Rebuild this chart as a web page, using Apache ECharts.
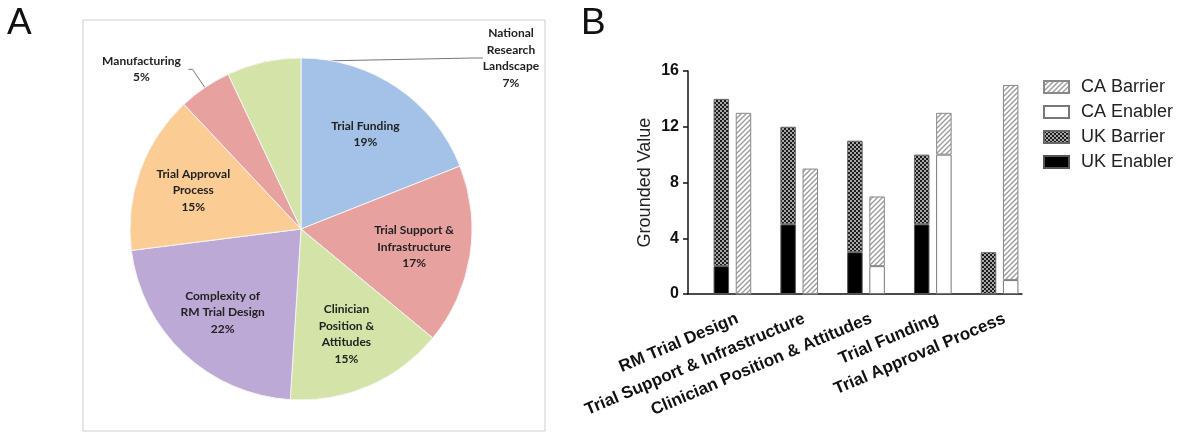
<!DOCTYPE html>
<html>
<head>
<meta charset="utf-8">
<script src="https://cdn.jsdelivr.net/npm/echarts@6/dist/echarts.min.js"></script>
<style>
  html, body { margin: 0; padding: 0; background: #fff; }
  #chart { width: 1182px; height: 434px; }
</style>
</head>
<body>
<div id="chart"></div>
<script>
// panel A - pie
const pieNames = ['Trial Funding', 'Trial Support &\nInfrastructure', 'Clinician\nPosition &\nAttitudes',
  'Complexity of\nRM Trial Design', 'Trial Approval\nProcess', 'Manufacturing', 'National\nResearch\nLandscape'];
const piePercent = [19, 17, 15, 22, 15, 5, 7];
const pieColors = ['#A4C2E7', '#E7A2A0', '#D4E4A9', '#BDA9D5', '#FCCC95', '#E7A2A0', '#D4E4A9'];

// panel B - stacked bars
const categories = ['RM Trial Design', 'Trial Support & Infrastructure', 'Clinician Position & Attitudes',
  'Trial Funding', 'Trial Approval Process'];
const ukEnabler = [2, 5, 3, 5, 0];
const ukBarrier = [12, 7, 8, 5, 3];
const caEnabler = [0, 0, 2, 10, 1];
const caBarrier = [13, 9, 5, 3, 14];
const yMin = 0, yMax = 16, yStep = 4;

const pieCx = 301, pieCy = 229, pieR = 171;
const font = '"Liberation Sans", Arial, sans-serif';

function makePattern(size, draw) {
  const c = document.createElement('canvas');
  c.width = size; c.height = size;
  draw(c.getContext('2d'), size);
  return { image: c, repeat: 'repeat' };
}

// checkered dark fill for UK Barrier
const checker = makePattern(4, (ctx) => {
  ctx.fillStyle = '#a8a8a8';
  ctx.fillRect(0, 0, 4, 4);
  ctx.fillStyle = '#1c1c1c';
  ctx.fillRect(0, 0, 2, 2);
  ctx.fillRect(2, 2, 2, 2);
});

// light diagonal hatch for CA Barrier
const hatch = makePattern(5, (ctx, s) => {
  ctx.fillStyle = '#ffffff';
  ctx.fillRect(0, 0, s, s);
  ctx.strokeStyle = '#9c9c9c';
  ctx.lineWidth = 1.4;
  ctx.beginPath();
  ctx.moveTo(-1, s + 1); ctx.lineTo(s + 1, -1);
  ctx.moveTo(-1, 1); ctx.lineTo(1, -1);
  ctx.moveTo(s - 1, s + 1); ctx.lineTo(s + 1, s - 1);
  ctx.stroke();
});

let chart = echarts.init(document.getElementById('chart'));

const sliceData = pieNames.map((n, i) => ({
  name: n, value: piePercent[i], itemStyle: { color: pieColors[i] }
}));

const labelData = pieNames.map((n, i) => {
  let item = { name: n, value: piePercent[i] };
  if (n === 'Manufacturing') {
    item.label = {
      position: 'outside',
      formatter: '{a|{b}}\n{a|{c}%}',
      rich: { a: { width: 84, align: 'center', fontSize: 12, fontWeight: 'bold', lineHeight: 16, color: '#222', fontFamily: 'Lato' } }
    };
    item.labelLine = { show: true, length: 22, length2: 4 };
  } else if (i === pieNames.length - 1) {
    item.label = { position: 'outside', align: 'center' };
    item.labelLine = { show: true, length: 10, length2: 10 };
  }
  return item;
});

chart.setOption({
  animation: false,
  graphic: [
    { type: 'rect', shape: { x: 83, y: 20, width: 462, height: 411 }, style: { fill: 'none', stroke: '#cfcfcf', lineWidth: 1 } },
    { type: 'text', left: 7, top: 5, style: { text: 'A', font: '37px ' + font, fill: '#111' } },
    { type: 'text', left: 581, top: 5, style: { text: 'B', font: '37px ' + font, fill: '#111' } }
  ],
  legend: {
    data: ['CA Barrier', 'CA Enabler', 'UK Barrier', 'UK Enabler'],
    orient: 'vertical',
    left: 1043,
    top: 78,
    padding: 0,
    icon: 'rect',
    itemWidth: 25,
    itemHeight: 12,
    itemGap: 7,
    textStyle: { fontSize: 18, color: '#222', fontFamily: font, padding: [0, 0, 0, 7] }
  },
  grid: [
    { left: 699, right: 149, top: 71, bottom: 140 },
    { left: 688, right: 160, top: 71, bottom: 140 },
    { left: 704, right: 144, top: 71, bottom: 140 }
  ],
  xAxis: [
    {
      type: 'category',
      gridIndex: 0,
      data: categories,
      axisLine: { show: false },
      axisTick: { show: false },
      axisLabel: { show: false }
    },
    {
      type: 'value', gridIndex: 1, min: 0, max: 1,
      axisLine: { show: true, lineStyle: { color: '#111', width: 1.5 } },
      axisTick: { show: false }, axisLabel: { show: false }, splitLine: { show: false }
    },
    {
      // category labels, nudged right like the original figure
      type: 'category',
      gridIndex: 2,
      data: categories,
      axisLine: { show: false },
      axisTick: { show: false },
      axisLabel: {
        interval: 0, rotate: 23, margin: 24,
        fontSize: 17, fontWeight: 'bold', color: '#111', fontFamily: font
      }
    }
  ],
  yAxis: [
    {
      type: 'value',
      gridIndex: 0,
      min: yMin, max: yMax, interval: yStep,
      offset: 11,
      name: 'Grounded Value',
      nameLocation: 'middle',
      nameGap: 34,
      nameTextStyle: { fontSize: 18, color: '#222', fontFamily: font },
      axisLine: { show: true, lineStyle: { color: '#111', width: 1.5 } },
      axisTick: { show: true, length: 5, lineStyle: { color: '#111', width: 1.5 } },
      axisLabel: { fontSize: 16, fontWeight: 'bold', color: '#111', margin: 9, fontFamily: font },
      splitLine: { show: false }
    },
    { type: 'value', gridIndex: 1, show: false, min: 0, max: 1 },
    { type: 'value', gridIndex: 2, show: false, min: 0, max: 1 }
  ],
  series: [
    {
      type: 'pie',
      center: [pieCx, pieCy],
      radius: pieR,
      startAngle: 90,
      clockwise: true,
      silent: true,
      label: { show: false },
      labelLine: { show: false },
      itemStyle: { borderColor: '#f4f4f4', borderWidth: 1 },
      data: sliceData
    },
    {
      // label carrier: same slices, invisible, labels sit at mid ring
      type: 'pie',
      center: [pieCx, pieCy],
      radius: [52, pieR],
      startAngle: 90,
      clockwise: true,
      silent: true,
      avoidLabelOverlap: false,
      itemStyle: { color: 'rgba(0,0,0,0)', borderWidth: 0 },
      label: {
        show: true, position: 'inside', formatter: '{b}\n{c}%',
        fontFamily: 'Lato', fontSize: 12, fontWeight: 'bold', lineHeight: 16.5, color: '#222'
      },
      labelLine: { show: false, lineStyle: { color: '#777', width: 1 } },
      labelLayout: function (params) {
        if (params.dataIndex === pieNames.length - 1) {
          return { x: pieCx + 210, y: pieCy - 171, align: 'center', verticalAlign: 'middle' };
        }
      },
      data: labelData
    },
    {
      name: 'UK Enabler', type: 'bar', stack: 'uk', barWidth: 15.5, barGap: '43%',
      itemStyle: { color: '#000', borderColor: '#555', borderWidth: 1 },
      data: ukEnabler
    },
    {
      name: 'UK Barrier', type: 'bar', stack: 'uk', barWidth: 15.5,
      itemStyle: { color: checker, borderColor: '#666', borderWidth: 1 },
      data: ukBarrier
    },
    {
      name: 'CA Enabler', type: 'bar', stack: 'ca', barWidth: 15.5,
      itemStyle: { color: '#fff', borderColor: '#777', borderWidth: 1 },
      data: caEnabler
    },
    {
      name: 'CA Barrier', type: 'bar', stack: 'ca', barWidth: 15.5,
      itemStyle: { color: hatch, borderColor: '#888', borderWidth: 1 },
      data: caBarrier
    }
  ]
});
</script>
</body>
</html>
